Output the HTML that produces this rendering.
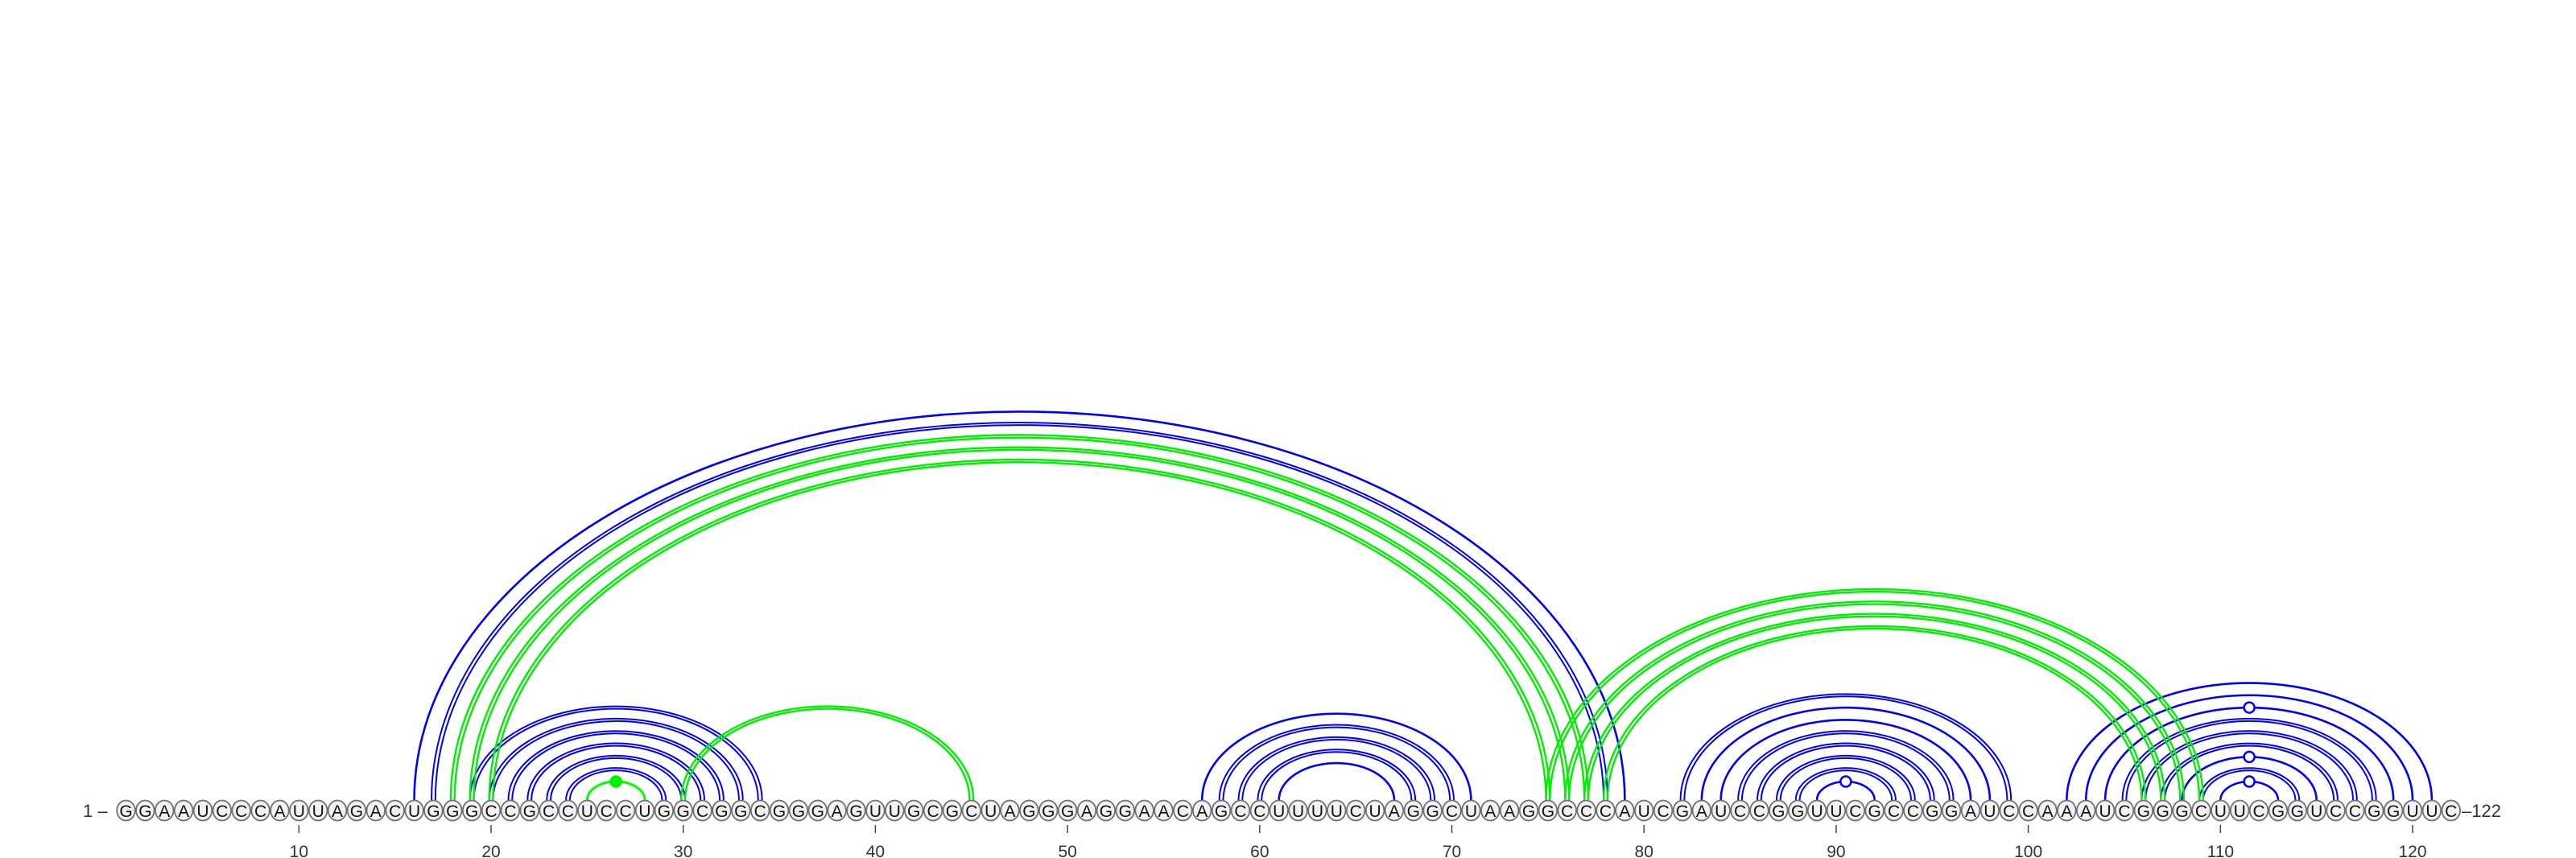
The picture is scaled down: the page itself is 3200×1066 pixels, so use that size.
<!DOCTYPE html>
<html><head><meta charset="utf-8"><style>
html,body{margin:0;padding:0;background:#fff;}
svg{display:block;}
</style></head><body>
<svg id="chart" width="3200" height="1066" viewBox="0 0 3200 1066" xmlns="http://www.w3.org/2000/svg">
<g id="arcs"></g>
<g id="nts"></g>
<g id="ticks"></g>
<text x="103" y="1015" font-family="Liberation Sans, sans-serif" font-size="22" fill="#333">1 –</text>
<text x="3058" y="1015" font-family="Liberation Sans, sans-serif" font-size="22" fill="#333">–122</text>
</svg>
<script>
const sequence = "GGAAUCCCAUUAGACUGGGCCGCCUCCUGGCGGCGGGAGUUGCGCUAGGGAGGAACAGCCUUUUCUAGGCUAAGGCCCAUCGAUCCGGUUCGCCGGAUCCAAAUCGGGCUUCGGUCCGGUUC";
const tickValues = [10,20,30,40,50,60,70,80,90,100,110,120];
const blueSingle = [[16,79],[57,71],[61,67],[83,98],[84,97],[102,121],[103,120],[104,119],[108,115],[110,113],[89,92]];
const blueDouble = [[17,78],[19,34],[20,33],[21,32],[22,31],[23,30],[24,29],[58,70],[59,69],[60,68],[82,99],[85,96],[86,95],[87,94],[88,93],[105,118],[106,117],[107,116],[109,114]];
const greenSingle = [[25,28]];
const greenDouble = [[18,77],[19,76],[20,75],[30,45],[75,109],[76,108],[77,107],[78,106]];
const hollowMarked = [[89,92],[104,119],[108,115],[110,113]];
const filledMarked = [[25,28]];

const NS = "http://www.w3.org/2000/svg";
const X0 = 156.5, DX = 23.87, Y0 = 994, RATIO = 0.642;
function xs(i){ return X0 + (i-1)*DX; }
const arcs = document.getElementById('arcs');
function arc(i,j,off,color,w){
  const x1 = xs(i)-off, x2 = xs(j)+off;
  const rx = (x2-x1)/2, ry = rx*RATIO;
  const p = document.createElementNS(NS,'path');
  p.setAttribute('d',`M${x1},${Y0} A${rx},${ry} 0 0 1 ${x2},${Y0}`);
  p.setAttribute('fill','none');
  p.setAttribute('stroke',color);
  p.setAttribute('stroke-width',w);
  
  
  arcs.appendChild(p);
}
blueSingle.forEach(p=>arc(p[0],p[1],0,'#0000ff',2.6));
blueDouble.forEach(p=>{arc(p[0],p[1],2.4,'#0000ff',2);arc(p[0],p[1],-2.4,'#0000ff',2);});
greenSingle.forEach(p=>arc(p[0],p[1],0,'#00ff00',3));
greenDouble.forEach(p=>{arc(p[0],p[1],2.4,'#00ee00',2.4);arc(p[0],p[1],-2.4,'#00ee00',2.4);});
function marker(p,fill,stroke){
  const rx = (xs(p[1])-xs(p[0]))/2;
  const c = document.createElementNS(NS,'circle');
  c.setAttribute('cx',(xs(p[0])+xs(p[1]))/2);
  c.setAttribute('cy',Y0-rx*RATIO);
  c.setAttribute('r',6.5);
  c.setAttribute('fill',fill);
  c.setAttribute('stroke',stroke);
  c.setAttribute('stroke-width',2.5);
  
  
  arcs.appendChild(c);
}
hollowMarked.forEach(p=>marker(p,'#fff','#0000ff'));
filledMarked.forEach(p=>marker(p,'#00ee00','#00ee00'));

const nts = document.getElementById('nts');
for(let i=1;i<=sequence.length;i++){
  const g = document.createElementNS(NS,'g');
  
  
  const e = document.createElementNS(NS,'ellipse');
  e.setAttribute('cx',xs(i)); e.setAttribute('cy',1007);
  e.setAttribute('rx',11.3); e.setAttribute('ry',12.5);
  e.setAttribute('fill','#f2f2f2'); e.setAttribute('stroke','#707070'); e.setAttribute('stroke-width',1.8);
  const t = document.createElementNS(NS,'text');
  t.setAttribute('x',xs(i)); t.setAttribute('y',1015);
  t.setAttribute('text-anchor','middle');
  t.setAttribute('font-family','Liberation Sans, sans-serif');
  t.setAttribute('font-size','21');
  t.setAttribute('fill','#111');
  t.textContent = sequence[i-1];
  g.appendChild(e); g.appendChild(t); nts.appendChild(g);
}
const ticks = document.getElementById('ticks');
tickValues.forEach(v=>{
  const l = document.createElementNS(NS,'line');
  l.setAttribute('x1',xs(v)); l.setAttribute('x2',xs(v));
  l.setAttribute('y1',1025); l.setAttribute('y2',1035);
  l.setAttribute('stroke','#444'); l.setAttribute('stroke-width',1.5);
  
  
  ticks.appendChild(l);
  const t = document.createElementNS(NS,'text');
  t.setAttribute('x',xs(v)); t.setAttribute('y',1065);
  t.setAttribute('text-anchor','middle');
  t.setAttribute('font-family','Liberation Sans, sans-serif');
  t.setAttribute('font-size','21');
  t.setAttribute('fill','#333');
  
  
  t.textContent = v;
  ticks.appendChild(t);
});
</script>
</body></html>
